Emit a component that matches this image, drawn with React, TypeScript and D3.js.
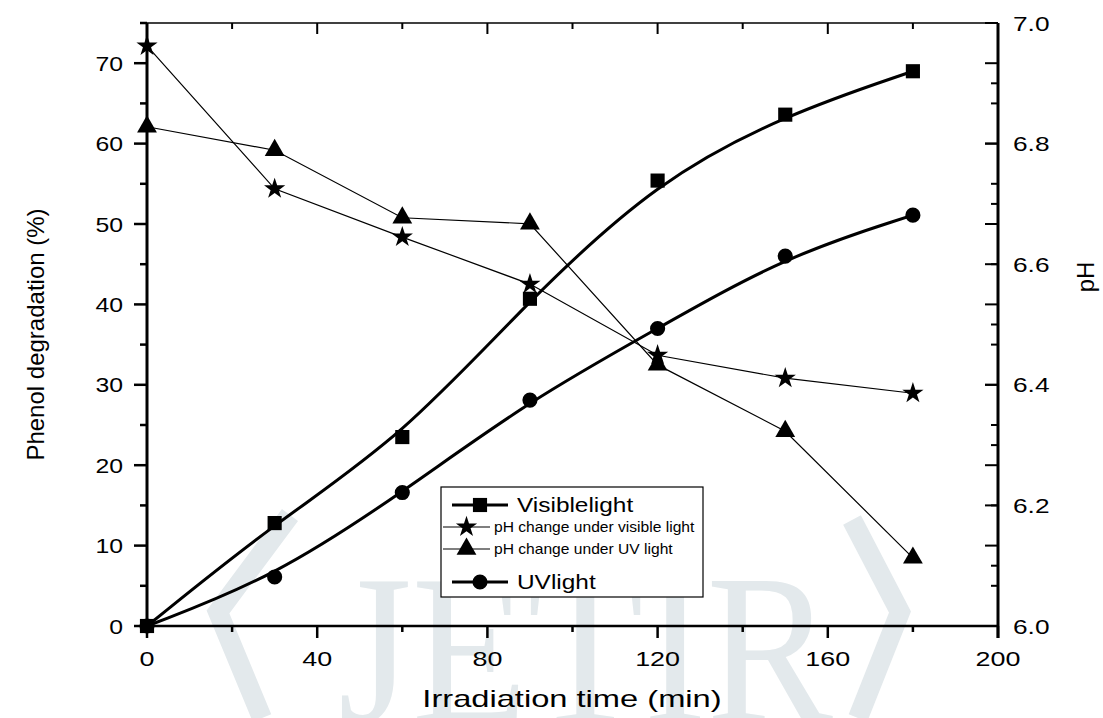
import React, { useEffect, useRef } from 'react';
import * as d3 from 'd3';

// irradiation time (min)
const times = [0, 30, 60, 90, 120, 150, 180];
// phenol degradation (%)
const visibleDeg = [0, 12.8, 23.5, 40.7, 55.4, 63.6, 69.0];
const uvDeg = [0, 6.1, 16.6, 28.1, 37.0, 46.0, 51.1];
// pH
const phVisible = [6.962, 6.725, 6.645, 6.567, 6.449, 6.411, 6.386];
const phUV = [6.828, 6.789, 6.677, 6.667, 6.433, 6.323, 6.113];

const xTicks = [0, 40, 80, 120, 160, 200];
const xMinor = [20, 60, 100, 140, 180];
const leftTicks = [0, 10, 20, 30, 40, 50, 60, 70];
const leftMinor = [5, 15, 25, 35, 45, 55, 65, 75];
const rightTicks = [6.0, 6.2, 6.4, 6.6, 6.8, 7.0];
const rightMinor = [6.1, 6.3, 6.5, 6.7, 6.9];
const legendLabels = ['Visiblelight', 'pH change under visible light', 'pH change under UV light', 'UVlight'];

const FONT = '"Liberation Sans", Arial, sans-serif';
const W = 1103;
const H = 718;

// the source figure is a bit stretched sideways, so widen horizontal text
function widen(sel: d3.Selection<SVGTextElement, unknown, null, undefined>, k: number) {
  const node = sel.node();
  if (!node) return;
  const len = node.getComputedTextLength();
  sel.attr('textLength', len * k).attr('lengthAdjust', 'spacingAndGlyphs');
}

function App() {
  const ref = useRef<SVGSVGElement>(null);

  useEffect(() => {
    const svg = d3.select(ref.current);
    svg.selectAll('*').remove();

    const m = { left: 147, right: 998, top: 23, bottom: 626 };
    const x = d3.scaleLinear().domain([0, 200]).range([m.left, m.right]);
    const yL = d3.scaleLinear().domain([0, 75]).range([m.bottom, m.top]);
    const yR = d3.scaleLinear().domain([6.0, 7.0]).range([m.bottom, m.top]);

    // faint watermark
    const wm = svg.append('g').attr('fill', '#e3e9ec').attr('stroke', '#e3e9ec');
    wm.append('text')
      .attr('x', 338)
      .attr('y', 722)
      .attr('textLength', 495)
      .attr('lengthAdjust', 'spacingAndGlyphs')
      .attr('font-family', '"Liberation Serif", serif')
      .attr('font-size', 215)
      .attr('stroke', 'none')
      .text('JETIR');
    wm.append('polyline')
      .attr('points', '290,515 218,612 262,718')
      .attr('fill', 'none')
      .attr('stroke-width', 20);
    wm.append('polyline')
      .attr('points', '852,520 900,612 858,718')
      .attr('fill', 'none')
      .attr('stroke-width', 20);

    // axes frame
    const g = svg.append('g').attr('stroke', '#000');
    g.append('line').attr('x1', m.left).attr('x2', m.right).attr('y1', m.bottom).attr('y2', m.bottom).attr('stroke-width', 2.5);
    g.append('line').attr('x1', m.left).attr('x2', m.right).attr('y1', m.top).attr('y2', m.top).attr('stroke-width', 1.6);
    g.append('line').attr('x1', m.left).attr('x2', m.left).attr('y1', m.top).attr('y2', m.bottom + 1).attr('stroke-width', 3);
    g.append('line').attr('x1', m.right).attr('x2', m.right).attr('y1', m.top).attr('y2', m.bottom + 12).attr('stroke-width', 3);

    // x ticks (bottom outward, top inward)
    xTicks.forEach(t => {
      g.append('line').attr('x1', x(t)).attr('x2', x(t)).attr('y1', m.bottom).attr('y2', m.bottom + 12).attr('stroke-width', 2.5);
      g.append('line').attr('x1', x(t)).attr('x2', x(t)).attr('y1', m.top).attr('y2', m.top + 11).attr('stroke-width', 2);
    });
    xMinor.forEach(t => {
      g.append('line').attr('x1', x(t)).attr('x2', x(t)).attr('y1', m.bottom).attr('y2', m.bottom + 6).attr('stroke-width', 2.5);
      g.append('line').attr('x1', x(t)).attr('x2', x(t)).attr('y1', m.top).attr('y2', m.top + 6).attr('stroke-width', 2);
    });
    // left ticks (outward), mirrored on the right side (inward)
    leftTicks.forEach(v => {
      g.append('line').attr('x1', m.left - 13).attr('x2', m.left).attr('y1', yL(v)).attr('y2', yL(v)).attr('stroke-width', 2.5);
      g.append('line').attr('x1', m.right - 13).attr('x2', m.right).attr('y1', yL(v)).attr('y2', yL(v)).attr('stroke-width', 2);
    });
    leftMinor.forEach(v => {
      g.append('line').attr('x1', m.left - 7).attr('x2', m.left).attr('y1', yL(v)).attr('y2', yL(v)).attr('stroke-width', 2.5);
      g.append('line').attr('x1', m.right - 7).attr('x2', m.right).attr('y1', yL(v)).attr('y2', yL(v)).attr('stroke-width', 2);
    });
    // right pH ticks (inward)
    rightTicks.forEach(v => {
      g.append('line').attr('x1', m.right - 13).attr('x2', m.right).attr('y1', yR(v)).attr('y2', yR(v)).attr('stroke-width', 2);
    });
    rightMinor.forEach(v => {
      g.append('line').attr('x1', m.right - 7).attr('x2', m.right).attr('y1', yR(v)).attr('y2', yR(v)).attr('stroke-width', 2);
    });

    // tick labels
    const lab = svg.append('g').attr('font-family', FONT).attr('font-size', 21).attr('fill', '#000');
    xTicks.forEach(t => {
      const tx = lab.append('text').attr('x', x(t)).attr('y', m.bottom + 40).attr('text-anchor', 'middle').text(String(t));
      widen(tx, 1.28);
    });
    leftTicks.forEach(v => {
      const tx = lab.append('text').attr('x', m.left - 24).attr('y', yL(v)).attr('dy', '0.36em').attr('text-anchor', 'end').text(String(v));
      widen(tx, 1.18);
    });
    rightTicks.forEach(v => {
      const tx = lab.append('text').attr('x', m.right + 15).attr('y', yR(v)).attr('dy', '0.36em').attr('text-anchor', 'start').text(v.toFixed(1));
      widen(tx, 1.25);
    });

    // axis titles
    const tt = svg.append('g').attr('font-family', FONT).attr('font-size', 24).attr('fill', '#000');
    const xt = tt.append('text').attr('x', 572).attr('y', 707).attr('text-anchor', 'middle').text('Irradiation time (min)');
    widen(xt, 1.36);
    tt.append('text')
      .attr('transform', `translate(44,${(m.top + m.bottom) / 2 + 10}) rotate(-90)`)
      .attr('text-anchor', 'middle')
      .text('Phenol degradation (%)');
    tt.append('text')
      .attr('transform', `translate(1094,277) rotate(-90)`)
      .attr('text-anchor', 'middle')
      .text('pH');

    // lines
    const smooth = d3
      .line<number>()
      .x((_, i) => x(times[i]))
      .curve(d3.curveBasis);
    const plot = svg.append('g');
    plot.append('path')
      .attr('d', smooth.y(d => yL(d))(visibleDeg))
      .attr('fill', 'none').attr('stroke', '#000').attr('stroke-width', 3);
    plot.append('path')
      .attr('d', smooth.y(d => yL(d))(uvDeg))
      .attr('fill', 'none').attr('stroke', '#000').attr('stroke-width', 3);
    const straight = d3
      .line<number>()
      .x((_, i) => x(times[i]))
      .y(d => yR(d));
    plot.append('path').attr('d', straight(phVisible)).attr('fill', 'none').attr('stroke', '#000').attr('stroke-width', 1.2);
    plot.append('path').attr('d', straight(phUV)).attr('fill', 'none').attr('stroke', '#000').attr('stroke-width', 1.2);

    const sym = {
      square: d3.symbol(d3.symbolSquare, 200),
      circle: d3.symbol(d3.symbolCircle, 180),
      triangle: d3.symbol(d3.symbolTriangle, 170),
      star: d3.symbol(d3.symbolStar, 140),
    };
    const drawMarks = (vals: number[], s: d3.Symbol<any, any>, yS: d3.ScaleLinear<number, number>) => {
      vals.forEach((v, i) => {
        plot.append('path')
          .attr('d', s() as string)
          .attr('transform', `translate(${x(times[i])},${yS(v)})`)
          .attr('fill', '#000');
      });
    };
    drawMarks(visibleDeg, sym.square, yL);
    drawMarks(uvDeg, sym.circle, yL);
    drawMarks(phVisible, sym.star, yR);
    drawMarks(phUV, sym.triangle, yR);

    // legend
    const lg = svg.append('g');
    lg.append('rect').attr('x', 441).attr('y', 487).attr('width', 262).attr('height', 110)
      .attr('fill', '#fff').attr('stroke', '#000').attr('stroke-width', 1.2);
    const rows = [
      { s: sym.square, y: 505, thick: true, size: 20, k: 1.22 },
      { s: sym.star, y: 527, thick: false, size: 15, k: 1.04 },
      { s: sym.triangle, y: 549, thick: false, size: 15, k: 1.04 },
      { s: sym.circle, y: 582, thick: true, size: 20, k: 1.22 },
    ];
    rows.forEach((r, i) => {
      const x1 = r.thick ? 452 : 443;
      const x2 = r.thick ? 508 : 490;
      lg.append('line').attr('x1', x1).attr('x2', x2).attr('y1', r.y).attr('y2', r.y)
        .attr('stroke', '#000').attr('stroke-width', r.thick ? 3 : 1.2);
      lg.append('path').attr('d', r.s() as string)
        .attr('transform', `translate(${(x1 + x2) / 2},${r.y})`).attr('fill', '#000');
      const tx = lg.append('text').attr('x', r.thick ? 517 : 494).attr('y', r.y).attr('dy', '0.35em')
        .attr('font-family', FONT).attr('font-size', r.size).text(legendLabels[i]);
      widen(tx, r.k);
    });
  }, []);

  return (
    <svg ref={ref} width={W} height={H} style={{ position: 'absolute', left: 0, top: 0, background: '#fff' }} />
  );
}

export default App;
